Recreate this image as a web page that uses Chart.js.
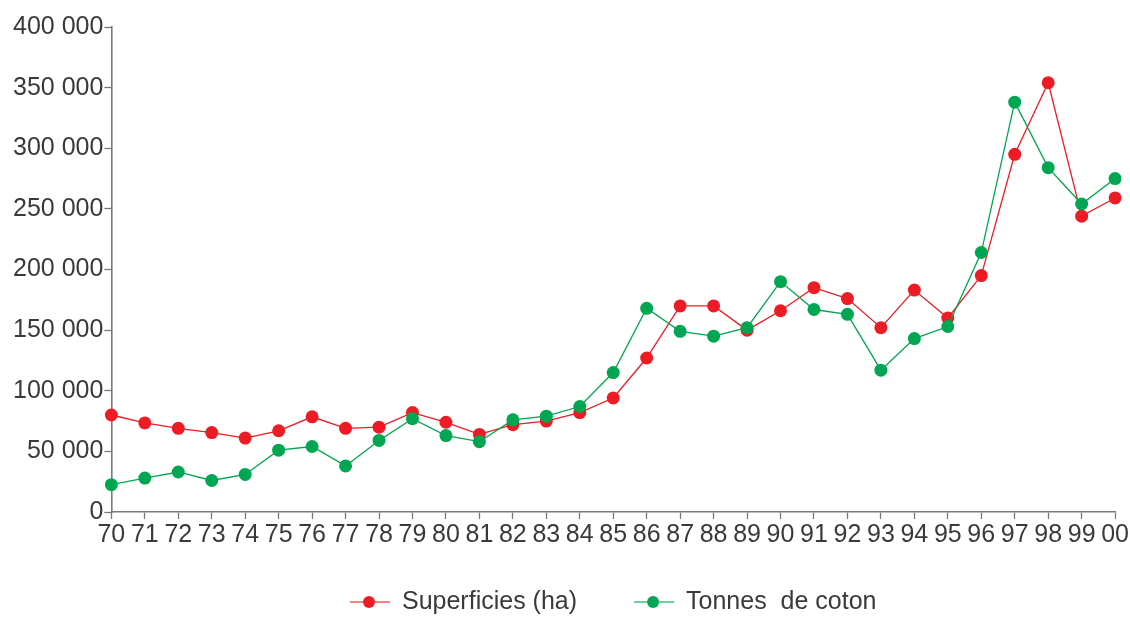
<!DOCTYPE html>
<html><head><meta charset="utf-8">
<script src="https://cdn.jsdelivr.net/npm/chart.js@4/dist/chart.umd.min.js"></script>
<style>html,body{margin:0;padding:0;background:#fff}#wrap{width:1130px;height:617px;position:relative}</style>
</head><body><div id="wrap"><canvas id="c"></canvas></div>
<script>
const years = ['70','71','72','73','74','75','76','77','78','79','80','81','82','83','84','85','86','87','88','89','90','91','92','93','94','95','96','97','98','99','00'];
const superficies = [80000,73500,69000,65500,61000,67000,78500,69000,70000,82000,74000,64000,72000,75000,82000,94000,127000,170000,170000,150000,166000,185000,176000,152000,183000,160000,195000,295000,354000,244000,259000];
const tonnes = [22500,28000,33000,26000,31000,51000,54000,38000,59000,77000,63000,58000,76000,79000,87000,115000,168000,149000,145000,152000,190000,167000,163000,117000,143000,153000,214000,338000,284000,254000,275000];
const yTicks = [0,50000,100000,150000,200000,250000,300000,350000,400000];
const seriesNames = ['Superficies (ha)','Tonnes  de coton'];
const seriesColors = ['#ed1c24','#00a651'];

function fmt(v){ return String(v).replace(/\B(?=(\d{3})+(?!\d))/g,' '); }
const txt = '#3a3a3a', axisCol = '#7a7a7a';

const customLegend = {
  id: 'customLegend',
  afterDraw(chart) {
    const ctx = chart.ctx, ca = chart.chartArea;
    const items = chart.data.datasets;
    const iconW = 40, gapText = 12, gapItem = 57, y = 602;
    ctx.save();
    ctx.font = '25px "Liberation Sans"';
    const widths = items.map(ds => iconW + gapText + ctx.measureText(ds.label).width);
    const total = widths.reduce((a, b) => a + b, 0) + gapItem * (items.length - 1);
    let x = (ca.left + ca.right) / 2 - total / 2;
    items.forEach((ds, i) => {
      ctx.globalAlpha = 0.55; ctx.strokeStyle = ds.borderColor; ctx.lineWidth = 2;
      ctx.beginPath(); ctx.moveTo(x, y); ctx.lineTo(x + iconW, y); ctx.stroke();
      ctx.globalAlpha = 1; ctx.fillStyle = ds.borderColor;
      ctx.beginPath(); ctx.arc(x + 19, y, 6, 0, Math.PI * 2); ctx.fill();
      ctx.fillStyle = txt; ctx.textBaseline = 'middle'; ctx.textAlign = 'left';
      ctx.fillText(ds.label, x + iconW + gapText, y);
      x += widths[i] + gapItem;
    });
    ctx.restore();
  }
};

new Chart(document.getElementById('c'), {
  type: 'line',
  data: {
    labels: years,
    datasets: [
      {label: seriesNames[0], data: superficies, borderColor: seriesColors[0], backgroundColor: seriesColors[0],
       pointBackgroundColor: seriesColors[0], borderWidth: 1.3, pointRadius: 6.5, pointBorderWidth: 0, order: 1, tension: 0},
      {label: seriesNames[1], data: tonnes, borderColor: seriesColors[1], backgroundColor: seriesColors[1],
       pointBackgroundColor: seriesColors[1], borderWidth: 1.3, pointRadius: 6.5, pointBorderWidth: 0, order: 0, tension: 0}
    ]
  },
  plugins: [customLegend],
  options: {
    responsive: true, maintainAspectRatio: false, animation: false, events: [],
    layout: {padding: {top: 27, left: 12, right: 4, bottom: 66}},
    scales: {
      x: {
        offset: false,
        grid: {display: true, drawOnChartArea: false, drawTicks: true, tickLength: 7, tickColor: axisCol, tickWidth: 1.3},
        border: {display: true, color: axisCol, width: 1.6},
        ticks: {color: txt, font: {family: 'Liberation Sans', size: 25}, padding: 1, maxRotation: 0, autoSkip: false}
      },
      y: {
        min: 0, max: 400000,
        afterBuildTicks: s => { s.ticks = yTicks.map(v => ({value: v})); },
        grid: {display: true, drawOnChartArea: false, drawTicks: true, tickLength: 7, tickColor: axisCol, tickWidth: 1.3},
        border: {display: true, color: axisCol, width: 1.6},
        ticks: {color: txt, font: {family: 'Liberation Sans', size: 25}, padding: 1, callback: v => fmt(v)}
      }
    },
    plugins: {
      tooltip: {enabled: false},
      legend: {display: false}
    }
  }
});
</script></body></html>
